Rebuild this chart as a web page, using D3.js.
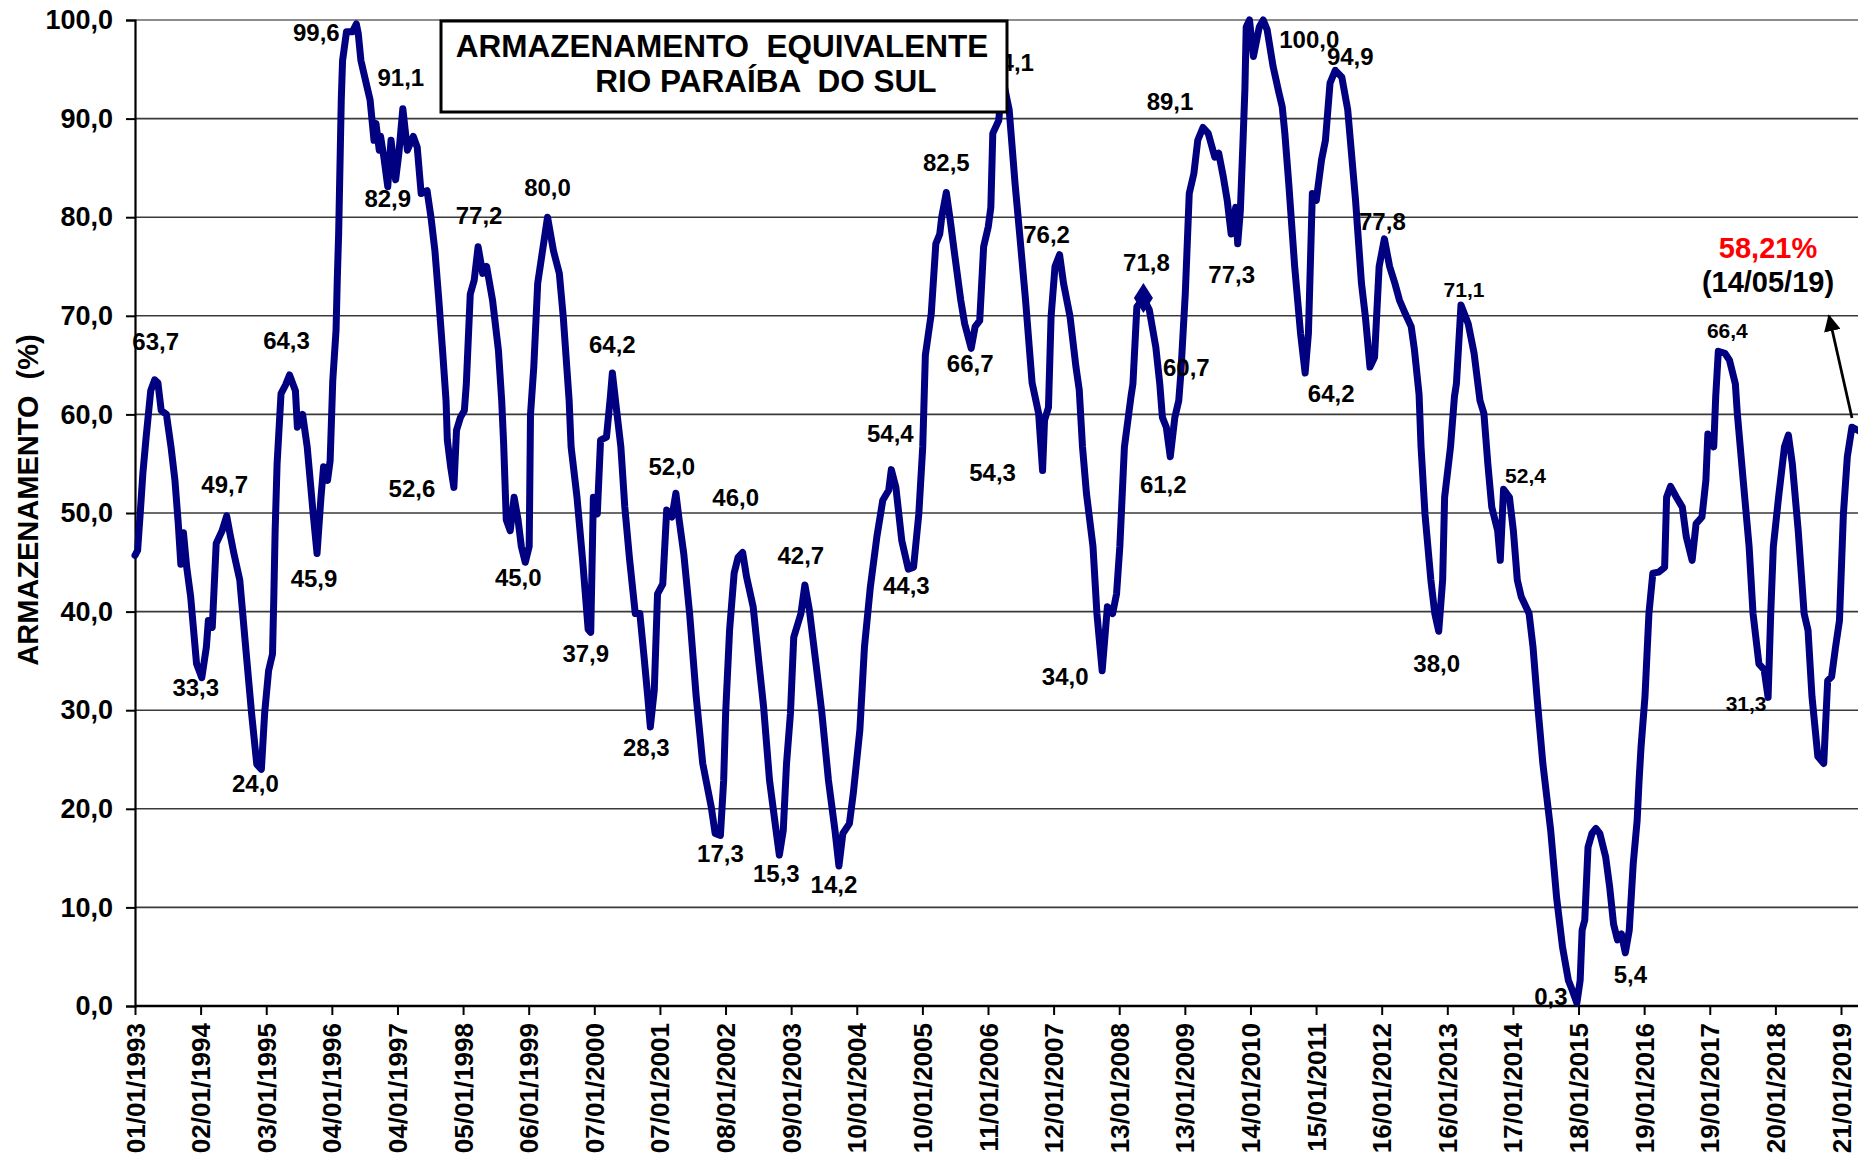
<!DOCTYPE html>
<html><head><meta charset="utf-8">
<script src="https://cdn.jsdelivr.net/npm/d3@7"></script>
<style>
html,body{margin:0;padding:0;background:#fff;}
svg{display:block;}
text{font-family:"Liberation Sans",Arial,sans-serif;font-weight:bold;}
</style></head>
<body>
<script>
// ---------- DATA ----------
const chartTitle = ["ARMAZENAMENTO  EQUIVALENTE", "RIO PARAÍBA  DO SUL"];
const yAxisTitle = "ARMAZENAMENTO  (%)";
const yTicks = [0,10,20,30,40,50,60,70,80,90,100];
const xTickLabels = ["01/01/1993","02/01/1994","03/01/1995","04/01/1996","04/01/1997","05/01/1998","06/01/1999","07/01/2000","07/01/2001","08/01/2002","09/01/2003","10/01/2004","10/01/2005","11/01/2006","12/01/2007","13/01/2008","13/01/2009","14/01/2010","15/01/2011","16/01/2012","16/01/2013","17/01/2014","18/01/2015","19/01/2016","19/01/2017","20/01/2018","21/01/2019"];

// time in decimal years, storage in %
const seriesTime = [1993.00,1993.04,1993.08,1993.12,1993.17,1993.24,1993.30,1993.35,1993.40,1993.48,1993.55,1993.61,1993.66,1993.70,1993.74,1993.79,1993.85,1993.94,1994.02,1994.09,1994.12,1994.18,1994.24,1994.33,1994.40,1994.45,1994.51,1994.60,1994.69,1994.78,1994.86,1994.93,1994.98,1995.04,1995.10,1995.12,1995.14,1995.17,1995.23,1995.30,1995.36,1995.45,1995.48,1995.56,1995.63,1995.72,1995.78,1995.84,1995.88,1995.94,1995.98,1996.02,1996.07,1996.09,1996.11,1996.13,1996.15,1996.17,1996.23,1996.32,1996.38,1996.41,1996.45,1996.53,1996.59,1996.65,1996.68,1996.73,1996.75,1996.80,1996.86,1996.91,1996.98,1997.03,1997.09,1997.16,1997.25,1997.31,1997.37,1997.46,1997.52,1997.58,1997.64,1997.70,1997.75,1997.77,1997.82,1997.87,1997.91,1997.97,1998.03,1998.06,1998.12,1998.18,1998.24,1998.31,1998.37,1998.46,1998.55,1998.60,1998.63,1998.67,1998.73,1998.79,1998.85,1998.90,1998.96,1999.02,1999.04,1999.09,1999.15,1999.21,1999.30,1999.39,1999.48,1999.54,1999.63,1999.66,1999.75,1999.84,1999.92,1999.96,2000.00,2000.06,2000.11,2000.20,2000.26,2000.29,2000.35,2000.42,2000.48,2000.55,2000.64,2000.71,2000.77,2000.83,2000.87,2000.93,2000.98,2001.06,2001.12,2001.20,2001.26,2001.31,2001.38,2001.47,2001.57,2001.67,2001.80,2001.86,2001.94,2001.99,2002.02,2002.08,2002.15,2002.21,2002.28,2002.34,2002.44,2002.53,2002.60,2002.69,2002.79,2002.84,2002.90,2002.95,2003.01,2003.06,2003.17,2003.23,2003.30,2003.40,2003.49,2003.59,2003.69,2003.75,2003.81,2003.91,2003.97,2004.07,2004.14,2004.23,2004.33,2004.42,2004.51,2004.55,2004.62,2004.71,2004.81,2004.89,2004.97,2005.03,2005.07,2005.16,2005.23,2005.29,2005.32,2005.39,2005.45,2005.51,2005.61,2005.67,2005.77,2005.83,2005.90,2005.96,2006.03,2006.07,2006.10,2006.19,2006.25,2006.35,2006.44,2006.51,2006.60,2006.70,2006.80,2006.86,2006.89,2006.95,2006.99,2007.05,2007.12,2007.18,2007.28,2007.37,2007.42,2007.47,2007.53,2007.63,2007.69,2007.77,2007.85,2007.93,2007.99,2008.04,2008.11,2008.21,2008.24,2008.30,2008.40,2008.49,2008.59,2008.65,2008.69,2008.75,2008.81,2008.88,2008.94,2008.97,2009.04,2009.10,2009.17,2009.23,2009.31,2009.39,2009.49,2009.55,2009.62,2009.68,2009.74,2009.81,2009.84,2009.88,2009.92,2009.95,2009.97,2010.02,2010.08,2010.17,2010.23,2010.29,2010.38,2010.47,2010.52,2010.56,2010.62,2010.71,2010.80,2010.87,2010.92,2010.98,2011.04,2011.12,2011.18,2011.25,2011.33,2011.43,2011.52,2011.64,2011.73,2011.79,2011.86,2011.93,2012.00,2012.08,2012.16,2012.24,2012.31,2012.40,2012.49,2012.54,2012.61,2012.64,2012.70,2012.79,2012.85,2012.91,2012.97,2013.00,2013.09,2013.15,2013.18,2013.25,2013.36,2013.45,2013.54,2013.60,2013.66,2013.72,2013.81,2013.85,2013.90,2013.99,2014.05,2014.11,2014.17,2014.29,2014.35,2014.41,2014.50,2014.53,2014.62,2014.71,2014.80,2014.89,2014.95,2015.02,2015.07,2015.10,2015.14,2015.19,2015.25,2015.31,2015.37,2015.46,2015.52,2015.58,2015.64,2015.70,2015.76,2015.82,2015.88,2015.94,2015.97,2016.00,2016.06,2016.12,2016.18,2016.27,2016.36,2016.39,2016.45,2016.54,2016.63,2016.69,2016.78,2016.84,2016.93,2016.99,2017.02,2017.11,2017.14,2017.18,2017.28,2017.35,2017.44,2017.47,2017.56,2017.65,2017.71,2017.80,2017.88,2017.94,2017.98,2018.02,2018.10,2018.19,2018.25,2018.31,2018.40,2018.49,2018.55,2018.61,2018.70,2018.79,2018.85,2018.91,2018.97,2019.03,2019.09,2019.15,2019.22,2019.365];
const seriesValue = [45.7,46.2,50.0,54.0,57.7,62.4,63.5,63.2,60.4,60.0,56.7,53.3,49.0,44.8,48.0,44.5,41.5,34.7,33.3,36.4,39.1,38.4,46.9,48.2,49.7,47.9,45.9,43.2,36.4,29.7,24.5,24.0,29.7,34.0,35.7,41.5,48.2,55.0,62.1,63.0,64.0,62.4,58.7,60.0,56.7,50.0,45.9,51.6,54.7,53.3,55.3,63.4,68.5,73.9,78.3,85.1,91.9,95.9,98.8,98.8,99.6,98.6,95.9,93.6,91.9,87.8,89.5,86.8,88.2,86.1,83.1,87.8,83.8,86.5,91.0,86.8,88.2,87.1,82.4,82.7,80.0,76.6,71.6,66.2,61.4,57.4,54.7,52.6,58.4,59.7,60.4,63.1,72.2,73.6,77.0,74.3,75.0,71.6,66.5,61.4,57.0,49.3,48.2,51.6,49.3,46.6,45.0,46.6,60.0,64.8,73.3,76.0,80.0,76.6,74.3,69.9,61.4,56.7,51.6,44.9,38.2,37.9,51.6,49.9,57.4,57.7,61.8,64.2,60.7,56.7,50.6,45.5,39.8,39.8,35.7,31.4,28.3,32.0,41.8,42.8,50.3,49.6,52.0,49.3,45.9,39.8,31.4,24.6,20.2,17.5,17.3,22.9,29.7,38.1,43.9,45.5,46.0,43.5,40.5,34.7,30.3,22.9,17.8,15.3,17.8,24.6,29.7,37.4,39.8,42.7,40.1,34.7,29.7,22.9,17.8,14.2,17.5,18.5,21.6,28.0,36.4,42.5,47.6,51.3,52.3,54.4,52.6,47.2,44.3,44.5,49.9,56.7,66.0,70.2,77.3,78.3,80.0,82.5,79.7,76.6,71.6,69.2,66.7,68.9,69.5,77.0,79.0,81.0,88.5,89.8,94.1,90.9,83.4,78.3,71.6,63.2,60.1,54.3,59.4,60.7,69.9,75.0,76.2,73.3,69.9,64.8,62.5,56.7,52.0,46.6,39.8,34.0,40.5,39.8,41.8,46.6,56.7,61.8,63.1,70.9,71.8,70.6,66.8,63.1,59.7,58.7,55.7,59.7,61.4,64.0,72.3,82.4,84.4,87.8,89.1,88.5,86.1,86.5,84.1,81.7,78.3,81.0,77.3,80.6,87.5,93.0,99.3,100.0,96.3,99.3,100.0,99.0,95.3,92.6,91.2,88.5,83.4,75.0,68.2,64.2,68.2,82.4,81.7,85.8,87.8,93.6,94.9,94.2,90.9,81.7,73.3,69.9,64.8,65.8,75.0,77.8,75.0,73.3,71.6,70.2,68.9,66.5,62.0,56.7,49.9,43.2,39.8,38.0,43.2,51.6,56.7,61.8,63.1,71.1,69.2,66.2,61.4,60.1,55.0,50.6,48.2,45.2,52.4,51.6,48.2,43.2,41.5,39.8,36.4,31.4,24.6,22.9,17.8,11.0,6.0,2.6,1.6,0.3,2.6,7.7,8.7,16.1,17.5,18.0,17.5,15.1,12.1,8.3,6.7,7.3,5.4,7.7,14.4,18.8,22.9,26.3,31.4,39.8,43.9,44.0,44.5,51.6,52.7,51.6,50.6,47.6,45.2,48.9,49.6,53.3,58.0,56.7,61.8,66.4,66.2,65.5,63.1,60.1,53.3,46.6,39.8,34.7,34.1,31.3,39.8,46.6,51.6,56.7,57.9,55.0,48.2,39.8,38.1,31.4,25.3,24.6,33.0,33.4,36.4,39.1,49.9,55.7,58.7,58.21];

// annotated extremes: text, time (decimal year)
const labelText  = ["63,7","64,3","99,6","91,1","82,9","77,2","80,0","64,2","49,7","33,3","24,0","45,9","52,6","45,0","37,9","52,0","46,0","28,3","42,7","54,4","44,3","54,3","34,0","61,2","17,3","15,3","14,2","82,5","94,1","76,2","66,7","71,8","60,7","89,1","77,3","100,0","94,9","77,8","64,2","71,1","38,0","52,4","66,4","31,3","0,3","5,4"];
const labelTime  = [1993.30,1995.36,1996.38,1997.09,1996.86,1998.24,1999.30,2000.29,1994.40,1994.02,1994.93,1995.78,1997.87,1998.96,1999.96,2001.26,2002.28,2000.87,2003.23,2004.55,2004.81,2006.86,2007.77,2008.81,2001.94,2002.84,2003.75,2005.39,2006.25,2007.12,2005.77,2008.40,2008.75,2009.31,2009.84,2010.23,2011.33,2012.08,2010.87,2013.25,2012.91,2013.90,2017.18,2017.94,2015.02,2015.76];
const markerTime = [2008.40];
const markerValue = [71.8];
const lastValueText = "58,21%";
const lastDateText = "(14/05/19)";

// ---------- LAYOUT (positions/styles) ----------
const labelOffset = [[1,-36],[-3,-32],[-40,9],[-2,-30],[0,10],[1,-29],[0,-30],[0,-28],[-2,-31],[-6,10],[-6,14],[-3,25],[-42,1],[-7,15],[-5,21],[-4,-27],[-7,-55],[-4,21],[-4,-29],[-1,-36],[-2,16],[-50,2],[-37,6],[-7,82],[0,18],[-3,18],[-5,19],[0,-30],[8,-16],[-13,-20],[-1,15],[3,-36],[20,-40],[-33,-26],[-6,31],[46,19],[15,-14],[-2,-17],[26,21],[3,-15],[-2,32],[22,-14],[9,-21],[-22,6],[-26,-7],[5,22]];
const smallLabels = new Set(["71,1","52,4","66,4","31,3"]);

const W = 1858, H = 1158;
const plot = {left:135, top:20, bottom:1006};
const toDate = t => new Date(Date.UTC(1993,0,1) + (t-1993)*365.25*864e5);
const parse = d3.utcParse("%d/%m/%Y");
const tickDates = xTickLabels.map(parse);

const x = d3.scaleUtc().domain([tickDates[0], tickDates[tickDates.length-1]]).range([135, 1841]);
const y = d3.scaleLinear().domain([0,100]).range([plot.bottom, plot.top]);

const svg = d3.select("body").append("svg").attr("width",W).attr("height",H);
svg.append("rect").attr("width",W).attr("height",H).attr("fill","#fff");

// gridlines
const fmt = v => d3.format(".1f")(v).replace(".", ",");
svg.append("g").selectAll("line").data(yTicks.filter(v=>v>0)).join("line")
  .attr("x1",plot.left).attr("x2",W).attr("y1",d=>y(d)).attr("y2",d=>y(d))
  .attr("stroke",d=>d===100?"#8c8c8c":"#3a3a3a").attr("stroke-width",d=>d===100?2:1.6);

// y axis
const yAxis = d3.axisLeft(y).tickValues(yTicks).tickFormat(fmt).tickSize(9).tickPadding(13);
const gy = svg.append("g").attr("transform",`translate(${plot.left},0)`).call(yAxis);
gy.select(".domain").attr("stroke","#000").attr("stroke-width",2.2);
gy.selectAll(".tick line").attr("stroke","#000").attr("stroke-width",2);
gy.selectAll(".tick text").attr("font-size",27).attr("fill","#000")
  .style("font-family",'"Liberation Sans",Arial,sans-serif').style("font-weight","bold");

// x axis
const xAxis = d3.axisBottom(x).tickValues(tickDates).tickFormat((d,i)=>xTickLabels[i]).tickSize(9).tickSizeOuter(0);
const gx = svg.append("g").attr("transform",`translate(0,${plot.bottom})`).call(xAxis);
gx.select(".domain").attr("stroke","#000").attr("stroke-width",2.4).attr("d",`M${plot.left},0H${W}`);
gx.selectAll(".tick line").attr("stroke","#000").attr("stroke-width",2);
gx.selectAll(".tick text").attr("font-size",26).attr("fill","#000")
  .style("font-family",'"Liberation Sans",Arial,sans-serif').style("font-weight","bold")
  .attr("text-anchor","end").attr("dy",null).attr("y",0).attr("x",0)
  .attr("dominant-baseline","central")
  .attr("transform","translate(0,17) rotate(-90)");

// y axis title
svg.append("text").attr("transform","translate(28,500) rotate(-90)")
  .attr("text-anchor","middle").attr("dominant-baseline","central")
  .attr("font-size",29).style("white-space","pre").text(yAxisTitle);

// series line
const pts = seriesTime.map((t,i)=>[toDate(t), seriesValue[i]]);
const line = d3.line().x(d=>x(d[0])).y(d=>y(d[1]));
svg.append("path").datum(pts).attr("d",line).attr("fill","none")
  .attr("stroke","#000080").attr("stroke-width",7).attr("stroke-linejoin","round").attr("stroke-linecap","round");

// diamond marker
svg.append("g").selectAll("path").data(markerTime.map((t,i)=>[toDate(t),markerValue[i]])).join("path")
  .attr("d", d3.symbol().type(d3.symbolDiamond).size(260))
  .attr("transform",d=>`translate(${x(d[0])},${y(d[1])}) scale(1.1,1)`)
  .attr("fill","#000080");

// value labels
const parseVal = s => +s.replace(",", ".");
svg.append("g").selectAll("text").data(labelText).join("text")
  .attr("x",(d,i)=>x(toDate(labelTime[i]))+labelOffset[i][0])
  .attr("y",(d,i)=>y(parseVal(d))+labelOffset[i][1])
  .attr("text-anchor","middle").attr("dominant-baseline","central")
  .attr("font-size",d=>smallLabels.has(d)?21:24).attr("fill","#000")
  .text(d=>d);

// title box (drawn over labels)
svg.append("rect").attr("x",441).attr("y",21).attr("width",566).attr("height",91)
  .attr("fill","#fff").attr("stroke","#000").attr("stroke-width",3);
svg.append("text").attr("x",722).attr("y",57).attr("text-anchor","middle")
  .attr("font-size",31.5).style("white-space","pre").text(chartTitle[0]);
svg.append("text").attr("x",766).attr("y",92).attr("text-anchor","middle")
  .attr("font-size",31.5).style("white-space","pre").text(chartTitle[1]);

// last value annotation
svg.append("text").attr("x",1768).attr("y",258).attr("text-anchor","middle")
  .attr("font-size",29).attr("fill","#ff0000").text(lastValueText);
svg.append("text").attr("x",1768).attr("y",292).attr("text-anchor","middle")
  .attr("font-size",29).attr("fill","#000").text(lastDateText);

svg.append("defs").append("marker").attr("id","arr").attr("viewBox","0 0 10 10")
  .attr("refX",9).attr("refY",5).attr("markerWidth",6).attr("markerHeight",6)
  .attr("orient","auto").attr("markerUnits","strokeWidth")
  .append("path").attr("d","M0,0L10,5L0,10Z").attr("fill","#000");
svg.append("line").attr("x1",1852).attr("y1",418).attr("x2",1829).attr("y2",316)
  .attr("stroke","#000").attr("stroke-width",2.8).attr("marker-end","url(#arr)");
</script>
</body></html>
